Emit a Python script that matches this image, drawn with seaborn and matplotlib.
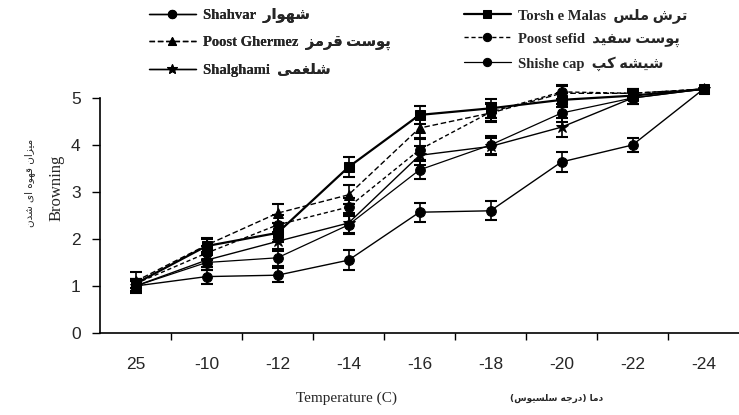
import matplotlib
matplotlib.use("Agg")
import matplotlib.pyplot as plt
import numpy as np
import pandas as pd
import seaborn as sns

# ---------------- data ----------------
temps = ['25', '-10', '-12', '-14', '-16', '-18', '-20', '-22', '-24']

shahvar       = [1.00, 1.20, 1.23, 1.55, 2.57, 2.60, 3.64, 4.00, 5.19]
poost_ghermez = [1.10, 1.87, 2.55, 2.94, 4.36, 4.68, 5.10, 5.10, 5.19]
shalghami     = [1.00, 1.55, 1.95, 2.34, 3.78, 3.97, 4.38, 5.00, 5.19]
torsh_e_malas = [1.05, 1.85, 2.13, 3.53, 4.64, 4.78, 4.96, 5.05, 5.19]
poost_sefid   = [1.05, 1.70, 2.30, 2.68, 3.90, 4.70, 5.13, 5.10, 5.19]
shishe_cap    = [1.00, 1.50, 1.60, 2.30, 3.47, 4.00, 4.68, 5.00, 5.19]

err_shahvar       = [0.15, 0.15, 0.15, 0.22, 0.20, 0.20, 0.22, 0.15, 0.0]
err_poost_ghermez = [0.20, 0.15, 0.20, 0.20, 0.22, 0.20, 0.15, 0.10, 0.0]
err_shalghami     = [0.10, 0.15, 0.20, 0.22, 0.20, 0.18, 0.20, 0.12, 0.0]
err_torsh_e_malas = [0.10, 0.15, 0.20, 0.22, 0.20, 0.20, 0.15, 0.10, 0.0]
err_poost_sefid   = [0.10, 0.15, 0.20, 0.20, 0.22, 0.20, 0.15, 0.10, 0.0]
err_shishe_cap    = [0.10, 0.15, 0.18, 0.20, 0.20, 0.20, 0.20, 0.12, 0.0]

series_en = ['Shahvar', 'Poost Ghermez', 'Shalghami', 'Torsh e Malas', 'Poost sefid', 'Shishe cap']
series_fa = ['شهوار', 'پوست قرمز', 'شلغمی', 'ترش ملس', 'پوست سفید', 'شیشه کپ']
values = [shahvar, poost_ghermez, shalghami, torsh_e_malas, poost_sefid, shishe_cap]
errors = [err_shahvar, err_poost_ghermez, err_shalghami, err_torsh_e_malas, err_poost_sefid, err_shishe_cap]

ylabel_en = 'Browning'
ylabel_fa = 'میزان قهوه ای شدن'
xlabel_en = 'Temperature (C)'
xlabel_fa = 'دما (درجه سلسیوس)'

# ---------------- Persian shaping helpers (visual RTL forms) ----------------
FORMS = {
    'ا': ('\uFE8D', '\uFE8E', None, None),
    'پ': ('\uFB56', '\uFB57', '\uFB58', '\uFB59'),
    'ت': ('\uFE95', '\uFE96', '\uFE97', '\uFE98'),
    'ج': ('\uFE9D', '\uFE9E', '\uFE9F', '\uFEA0'),
    'د': ('\uFEA9', '\uFEAA', None, None),
    'ر': ('\uFEAD', '\uFEAE', None, None),
    'ز': ('\uFEAF', '\uFEB0', None, None),
    'س': ('\uFEB1', '\uFEB2', '\uFEB3', '\uFEB4'),
    'ش': ('\uFEB5', '\uFEB6', '\uFEB7', '\uFEB8'),
    'غ': ('\uFECD', '\uFECE', '\uFECF', '\uFED0'),
    'ف': ('\uFED1', '\uFED2', '\uFED3', '\uFED4'),
    'ق': ('\uFED5', '\uFED6', '\uFED7', '\uFED8'),
    'ک': ('\uFB8E', '\uFB8F', '\uFB90', '\uFB91'),
    'ل': ('\uFEDD', '\uFEDE', '\uFEDF', '\uFEE0'),
    'م': ('\uFEE1', '\uFEE2', '\uFEE3', '\uFEE4'),
    'ن': ('\uFEE5', '\uFEE6', '\uFEE7', '\uFEE8'),
    'ه': ('\uFEE9', '\uFEEA', '\uFEEB', '\uFEEC'),
    'و': ('\uFEED', '\uFEEE', None, None),
    'ی': ('\uFBFC', '\uFBFD', '\uFBFE', '\uFBFF'),
}
MIRROR = {'(': ')', ')': '('}


def fa(s):
    """Contextual shaping + right-to-left visual ordering."""
    out = []
    for i, c in enumerate(s):
        if c not in FORMS:
            out.append(MIRROR.get(c, c))
            continue
        prev = s[i - 1] if i > 0 else None
        nxt = s[i + 1] if i + 1 < len(s) else None
        jp = prev in FORMS and FORMS[prev][2] is not None
        jn = nxt in FORMS and FORMS[c][2] is not None
        idx = 3 if (jp and jn) else 1 if jp else 2 if jn else 0
        out.append(FORMS[c][idx])
    return ''.join(reversed(out))


# ---------------- styling ----------------
sns.set_theme(style='white')
plt.rcParams['font.family'] = ['Liberation Sans', 'DejaVu Sans']

styles = [
    dict(marker='o', ls='-', lw=1.0, ms=7),
    dict(marker='^', ls=(0, (4, 2)), lw=1.0, ms=7),
    dict(marker='*', ls='-', lw=1.0, ms=9),
    dict(marker='s', ls='-', lw=1.6, ms=7),
    dict(marker='o', ls=(0, (3, 2)), lw=1.0, ms=7),
    dict(marker='o', ls='-', lw=0.9, ms=7),
]

fig = plt.figure(figsize=(7.39, 4.15), dpi=100)
ax = fig.add_axes([100 / 739, 82 / 415, 639 / 739, 235 / 415])

x = np.arange(len(temps))
handles = []
for name, fname, vals, errs, st in zip(series_en, series_fa, values, errors, styles):
    df = pd.DataFrame({'pos': x, 'value': vals})
    n_before = len(ax.lines)
    sns.lineplot(data=df, x='pos', y='value', ax=ax, color='black',
                 marker=st['marker'], markersize=st['ms'], linewidth=st['lw'],
                 markeredgecolor='black', markerfacecolor='black', clip_on=False,
                 label=name + '  ' + fa(fname), legend=False)
    line = ax.lines[n_before]
    line.set_linestyle(st['ls'])
    handles.append(line)
    ax.errorbar(x, vals, yerr=errs, fmt='none', ecolor='black', elinewidth=1.2,
                capsize=4, capthick=1.5, clip_on=False)

leg = ax.get_legend()
if leg is not None:
    leg.remove()

ax.set_xlim(-0.5, len(temps) - 0.5)
ax.set_ylim(0, 5)
ax.set_yticks([0, 1, 2, 3, 4, 5])
ax.set_xticks(x)
ax.set_xticklabels(temps)
ax.set_xticks(np.arange(0.5, len(temps) - 1, 1.0), minor=True)
ax.tick_params(axis='x', which='major', length=0, pad=17, labelsize=12.5)
ax.tick_params(axis='x', which='minor', length=5, width=1, direction='out', color='black')
ax.tick_params(axis='y', which='major', length=6, width=1, direction='out', pad=8,
               labelsize=12.5, color='black')
ax.tick_params(bottom=True, left=True, which='both')
for s in ['top', 'right']:
    ax.spines[s].set_visible(False)
for s in ['left', 'bottom']:
    ax.spines[s].set_color('black')
    ax.spines[s].set_linewidth(1.2)
ax.set_xlabel('')
ax.set_ylabel('')
ax.grid(False)

serif = ['Liberation Serif', 'DejaVu Sans']

# y labels
fig.text(57 / 739, 1 - 188 / 415, ylabel_en, rotation=90, ha='center', va='center',
         family=serif, fontsize=12)
fig.text(30 / 739, 1 - 183 / 415, fa(ylabel_fa), rotation=90, ha='center',
         va='center', family=['DejaVu Sans'], fontsize=7.5)

# x labels
fig.text(346 / 739, 1 - 398 / 415, xlabel_en, ha='center', va='center',
         family=serif, fontsize=11)
fig.text(557 / 739, 1 - 398 / 415, fa(xlabel_fa), ha='center', va='center',
         family=['DejaVu Sans'], fontsize=6.5, fontweight='bold')

# legends
leg_font = {'family': serif, 'size': 10.5, 'weight': 'bold'}
leg1 = fig.legend(handles[:3], [h.get_label() for h in handles[:3]],
                  loc='upper left', bbox_to_anchor=(143 / 739, 1 - 2 / 415),
                  frameon=False, handlelength=3.2, labelspacing=0.9,
                  prop=leg_font, borderaxespad=0,
                  handletextpad=0.5, markerscale=0.85)
leg2 = fig.legend(handles[3:], [h.get_label() for h in handles[3:]],
                  loc='upper left', bbox_to_anchor=(458 / 739, 1 - 2 / 415),
                  frameon=False, handlelength=3.2, labelspacing=0.65,
                  prop=leg_font, borderaxespad=0,
                  handletextpad=0.5, markerscale=0.85)
fig.add_artist(leg1)

fig.savefig('out.png', dpi=100)
